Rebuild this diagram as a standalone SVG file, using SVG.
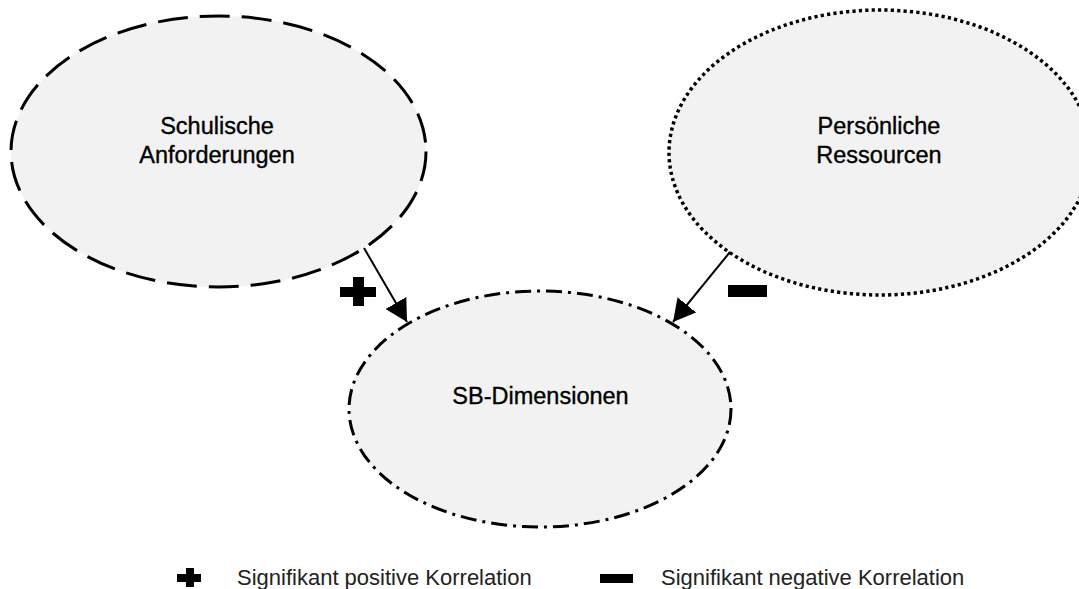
<svg xmlns="http://www.w3.org/2000/svg" width="1079" height="589" viewBox="0 0 1079 589">
  <style>
    .node { fill: #f2f2f2; stroke: #000; stroke-width: 3; }
    .dashed { stroke-dasharray: 30 12; }
    .dotted { stroke-width: 3.5; stroke-dasharray: 3.2 3.2; }
    .dashdot { stroke-dasharray: 16 6 3 6; }
    .label { font-family: "Liberation Sans", Arial, sans-serif; font-size: 23.5px; fill: #000; stroke: #000; stroke-width: 0.35; text-anchor: middle; }
    .legend { font-family: "Liberation Sans", Arial, sans-serif; font-size: 22px; fill: #222; }
    .conn { stroke: #000; stroke-width: 2; fill: none; }
  </style>
  <defs>
    <marker id="arrow" markerUnits="userSpaceOnUse" viewBox="0 0 22 24" markerWidth="22" markerHeight="24" refX="22" refY="12" orient="auto">
      <path d="M0,0 L22,12 L0,24 z" fill="#000"/>
    </marker>
  </defs>
  <rect width="1079" height="589" fill="#fff"/>

  <g id="node-schulische">
    <ellipse class="node dashed" cx="218.5" cy="151.5" rx="207.5" ry="135.5"/>
    <text class="label" x="217" y="134">Schulische</text>
    <text class="label" x="217" y="163">Anforderungen</text>
  </g>

  <g id="node-persoenliche">
    <ellipse class="node dotted" cx="880" cy="152.5" rx="211" ry="142.5"/>
    <text class="label" x="879" y="134">Persönliche</text>
    <text class="label" x="879" y="163">Ressourcen</text>
  </g>

  <g id="node-sb">
    <ellipse class="node dashdot" cx="540" cy="409" rx="191" ry="118"/>
    <text class="label" x="540.5" y="404">SB-Dimensionen</text>
  </g>

  <g id="connectors">
    <line class="conn" x1="364" y1="248" x2="407" y2="322" marker-end="url(#arrow)"/>
    <line class="conn" x1="730" y1="252" x2="673" y2="322" marker-end="url(#arrow)"/>
  </g>

  <g id="sign-plus">
    <rect x="340" y="287" width="36" height="10" fill="#000"/>
    <rect x="353" y="277" width="11" height="29" fill="#000"/>
  </g>
  <g id="sign-minus">
    <rect x="728" y="285" width="39" height="12" fill="#000"/>
  </g>

  <g id="legend">
    <rect x="177" y="574" width="24" height="8" fill="#000"/>
    <rect x="186" y="568" width="8" height="19" fill="#000"/>
    <text class="legend" x="237" y="585">Signifikant positive Korrelation</text>
    <rect x="600" y="574" width="33" height="9" fill="#000"/>
    <text class="legend" x="661" y="585">Signifikant negative Korrelation</text>
  </g>
</svg>
